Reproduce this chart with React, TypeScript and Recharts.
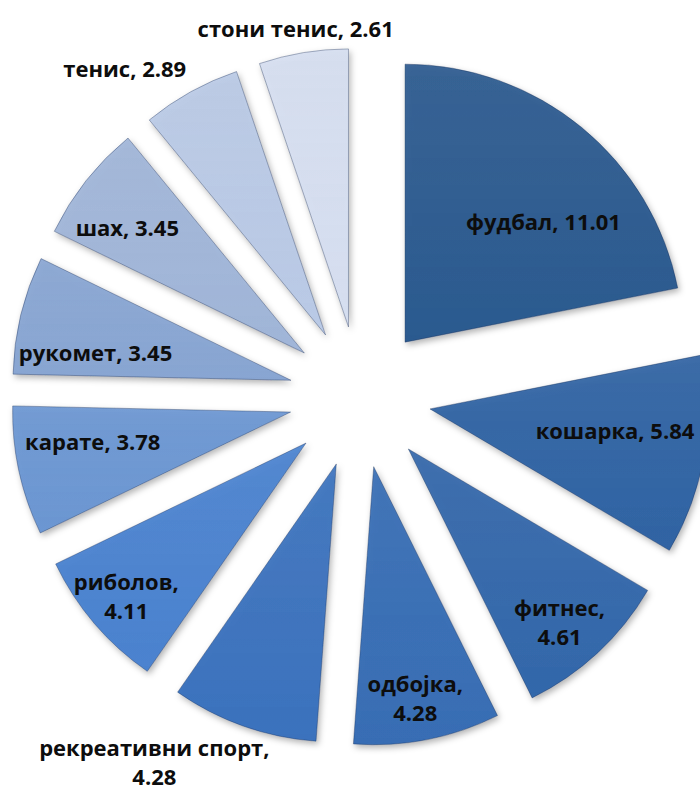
import { PieChart, Pie, Cell } from 'recharts';

// sports and their share (%)
const sports = [
  'фудбал',
  'кошарка',
  'фитнес',
  'одбојка',
  'рекреативни спорт',
  'риболов',
  'карате',
  'рукомет',
  'шах',
  'тенис',
  'стони тенис',
];
const shares = [11.01, 5.84, 4.61, 4.28, 4.28, 4.11, 3.78, 3.45, 3.45, 2.89, 2.61];

const sliceColors = [
  '#2b5a8f',
  '#3063a3',
  '#3367aa',
  '#376db4',
  '#3b72bd',
  '#4a82cf',
  '#6b96d2',
  '#88a5d2',
  '#a0b5d8',
  '#b9c9e5',
  '#d5def0',
];

const data = sports.map((name, i) => ({ name, value: shares[i] }));

const WIDTH = 700;
const HEIGHT = 795;
const CX = 360;
const CY = 397;
const RADIUS = 278;
const EXPLODE = 71;
const RADIAN = Math.PI / 180;

const total = shares.reduce((a, b) => a + b, 0);
const midAngles = shares.map((v, i) => {
  const before = shares.slice(0, i).reduce((a, b) => a + b, 0);
  return 90 - ((before + v / 2) / total) * 360;
});

// label placement: fraction of radius from the slice tip, angle nudge, wrapped or not
const labelPlacement: Record<string, { r: number; da: number; wrap?: boolean }> = {
  'фудбал': { r: 0.66, da: -9.6 },
  'кошарка': { r: 0.67, da: 3 },
  'фитнес': { r: 0.83, da: -2, wrap: true },
  'одбојка': { r: 0.85, da: -1, wrap: true },
  'рекреативни спорт': { r: 1.26, da: -11.8, wrap: true },
  'риболов': { r: 0.85, da: 0, wrap: true },
  'карате': { r: 0.72, da: -3.6 },
  'рукомет': { r: 0.71, da: 5.6 },
  'шах': { r: 0.78, da: 3 },
  'тенис': { r: 1.2, da: 8 },
  'стони тенис': { r: 1.09, da: 0.7 },
};

const makeLabel = (slice: number) => (props: any) => {
  const { cx, cy, midAngle, outerRadius, index } = props;
  if (index !== slice) return null;
  const name = sports[index];
  const p = labelPlacement[name];
  const a = (midAngle + p.da) * RADIAN;
  const x = cx + outerRadius * p.r * Math.cos(a);
  const y = cy - outerRadius * p.r * Math.sin(a);
  const valueText = shares[index].toFixed(2);
  const common = {
    textAnchor: 'middle' as const,
    fill: '#0d0d0d',
    fontFamily: '"Open Sans", sans-serif',
    fontWeight: 700,
    fontSize: 22,
  };
  if (p.wrap) {
    return (
      <text x={x} y={y} {...common}>
        <tspan x={x} dy={-7}>{name},</tspan>
        <tspan x={x} dy={29}>{valueText}</tspan>
      </text>
    );
  }
  return (
    <text x={x} y={y + 8} {...common}>
      {name}, {valueText}
    </text>
  );
};

export default function App() {
  return (
    <div style={{ position: 'absolute', left: 0, top: 0, width: WIDTH, height: HEIGHT, background: '#fff', overflow: 'hidden' }}>
      <PieChart width={WIDTH} height={HEIGHT} margin={{ top: 0, right: 0, bottom: 0, left: 0 }}>
        <defs>
          <filter id="sliceShadow" x="-20%" y="-20%" width="140%" height="140%">
            <feDropShadow dx="2" dy="3" stdDeviation="3" floodColor="#000" floodOpacity="0.3" />
          </filter>
          {sliceColors.map((c, i) => (
            <linearGradient key={i} id={`slice${i}`} x1="0" y1="0" x2="0" y2="1">
              <stop offset="0%" stopColor={c} stopOpacity={0.92} />
              <stop offset="100%" stopColor={c} stopOpacity={1} />
            </linearGradient>
          ))}
        </defs>
        {sports.map((name, slice) => (
          <Pie
            key={name}
            data={data}
            dataKey="value"
            nameKey="name"
            cx={CX + EXPLODE * Math.cos(midAngles[slice] * RADIAN)}
            cy={CY - EXPLODE * Math.sin(midAngles[slice] * RADIAN)}
            outerRadius={RADIUS}
            startAngle={90}
            endAngle={-270}
            stroke="none"
            labelLine={false}
            label={makeLabel(slice)}
            isAnimationActive={false}
          >
            {data.map((d, i) => (
              <Cell
                key={d.name}
                fill={i === slice ? `url(#slice${i})` : 'transparent'}
                stroke={i === slice ? 'rgba(20,40,80,0.35)' : 'none'}
                strokeWidth={1}
                filter={i === slice ? 'url(#sliceShadow)' : undefined}
              />
            ))}
          </Pie>
        ))}
      </PieChart>
    </div>
  );
}
